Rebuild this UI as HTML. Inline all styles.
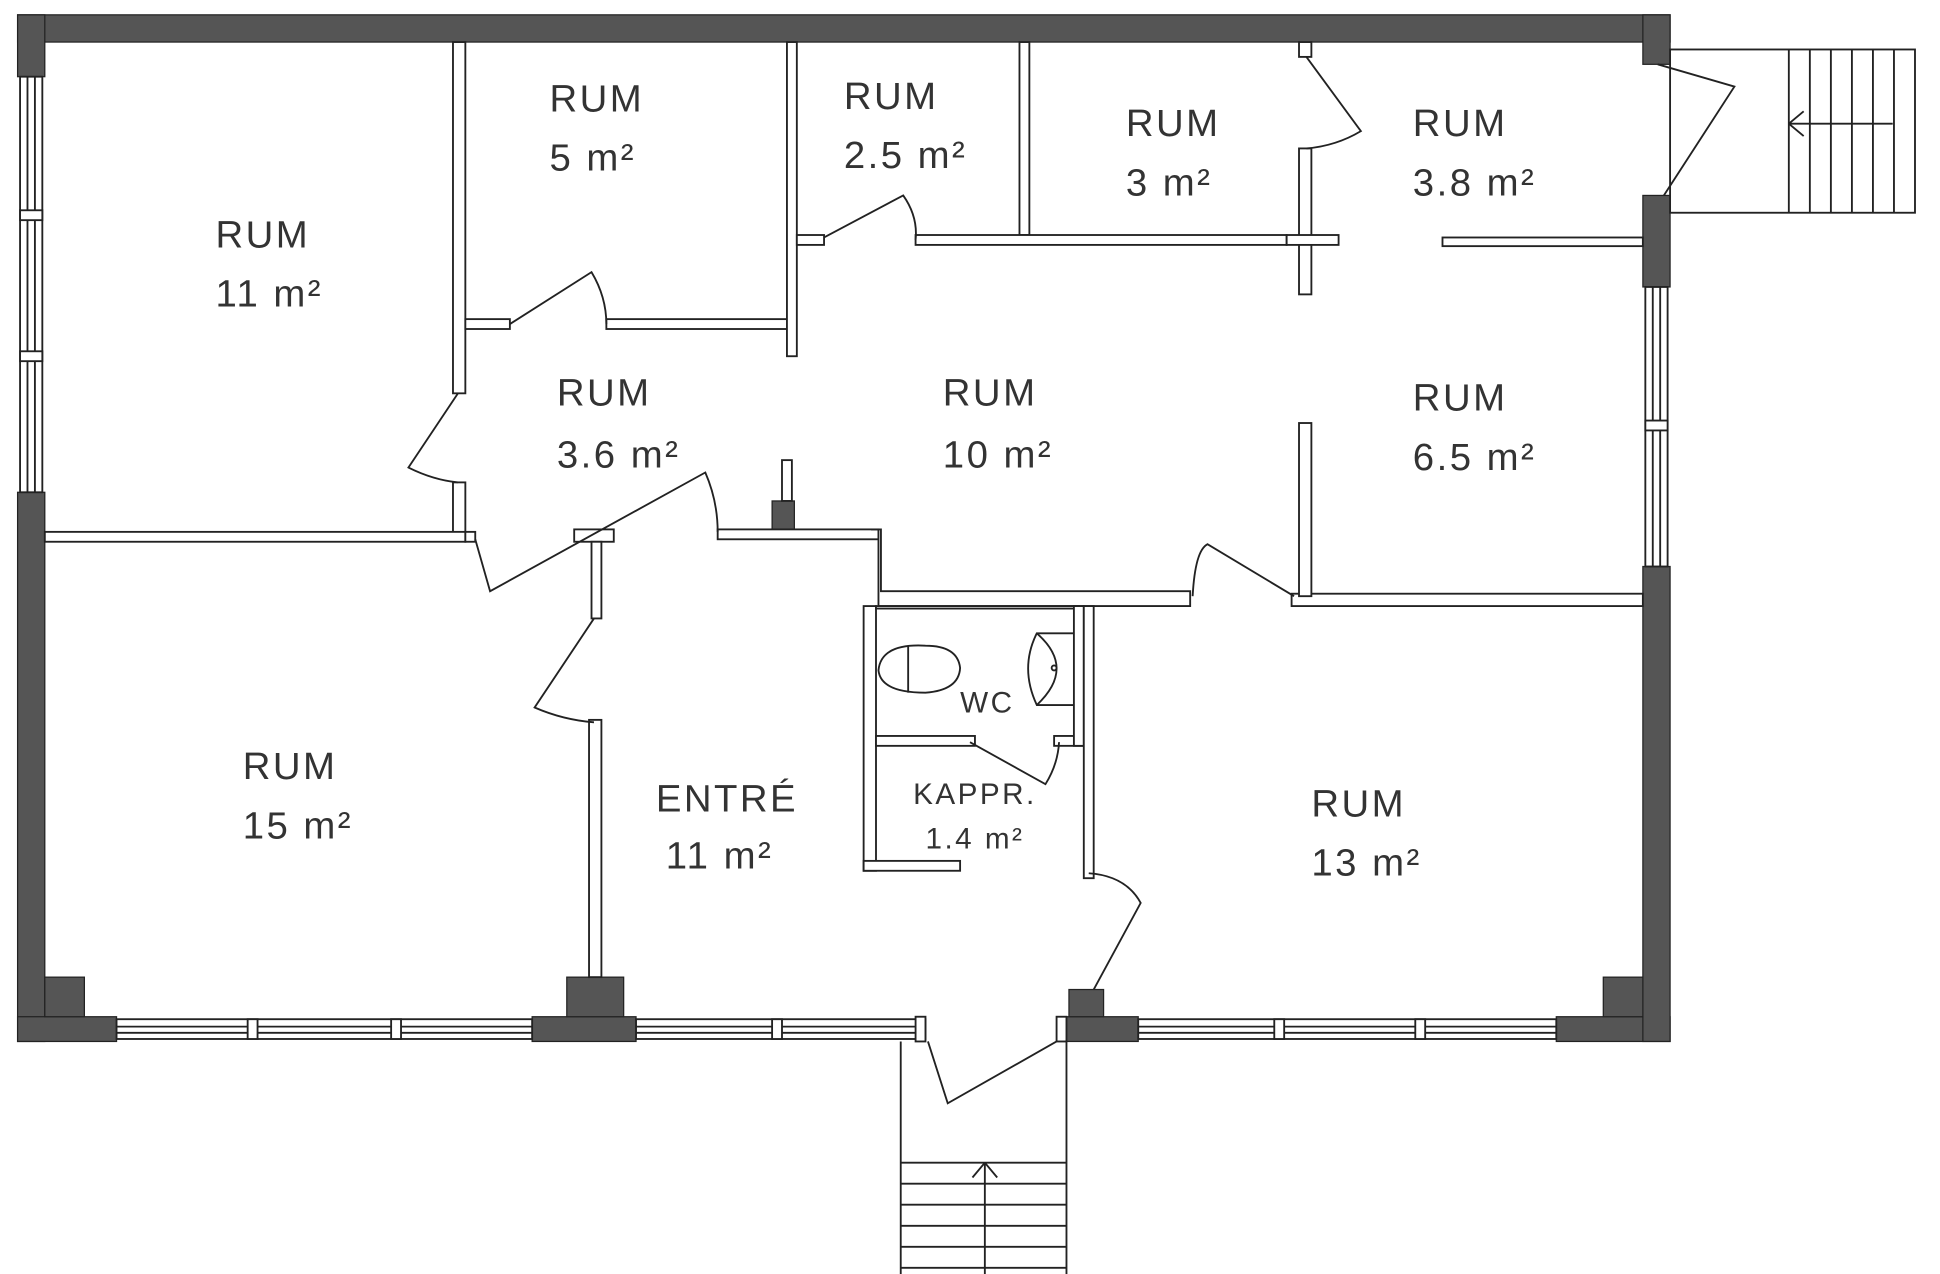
<!DOCTYPE html>
<html><head><meta charset="utf-8"><style>
html,body{margin:0;padding:0;background:#fff;}
svg{display:block;}
text{font-family:"Liberation Sans",sans-serif;fill:#333;font-size:31px;letter-spacing:2px;}
</style></head><body>
<svg width="1940" height="1274" viewBox="0 0 1568 1030" xmlns="http://www.w3.org/2000/svg">
<g fill="#555" stroke="#222" stroke-width="1">
<!-- outer walls -->
<rect x="14" y="12" width="1336" height="22"/>
<rect x="14" y="12" width="22" height="50"/>
<rect x="14" y="398" width="22" height="444"/>
<rect x="14" y="822" width="80" height="20"/>
<rect x="430" y="822" width="84" height="20"/>
<rect x="854" y="822" width="66" height="20"/>
<rect x="1258" y="822" width="92" height="20"/>
<rect x="1328" y="12" width="22" height="40"/>
<rect x="1328" y="158" width="22" height="74"/>
<rect x="1328" y="458" width="22" height="384"/>
<rect x="36" y="790" width="32" height="32"/>
<rect x="458" y="790" width="46" height="32"/>
<rect x="1296" y="790" width="32" height="32"/>
<rect x="864" y="800" width="28" height="22"/>
<rect x="624" y="405" width="18" height="23"/>
</g>
<g fill="#fff" stroke="#222" stroke-width="1.5">
<!-- windows -->
<rect x="16" y="62" width="18" height="336"/>
<line x1="22" y1="62" x2="22" y2="398"/><line x1="28" y1="62" x2="28" y2="398"/>
<rect x="16" y="170" width="18" height="8"/><rect x="16" y="284" width="18" height="8"/>
<rect x="94" y="824" width="336" height="16"/>
<line x1="94" y1="830" x2="430" y2="830"/><line x1="94" y1="835" x2="430" y2="835"/>
<rect x="200" y="824" width="8" height="16"/><rect x="316" y="824" width="8" height="16"/>
<rect x="514" y="824" width="234" height="16"/>
<line x1="514" y1="830" x2="748" y2="830"/><line x1="514" y1="835" x2="748" y2="835"/>
<rect x="624" y="824" width="8" height="16"/><rect x="740" y="822" width="8" height="20"/>
<rect x="920" y="824" width="338" height="16"/>
<line x1="920" y1="830" x2="1258" y2="830"/><line x1="920" y1="835" x2="1258" y2="835"/>
<rect x="1030" y="824" width="8" height="16"/><rect x="1144" y="824" width="8" height="16"/>
<rect x="854" y="822" width="8" height="20"/>
<rect x="1330" y="232" width="18" height="226"/>
<line x1="1336" y1="232" x2="1336" y2="458"/><line x1="1342" y1="232" x2="1342" y2="458"/>
<rect x="1330" y="340" width="18" height="8"/>
<!-- interior walls -->
<rect x="366" y="34" width="10" height="284"/>
<rect x="366" y="390" width="10" height="42"/>
<rect x="36" y="430" width="340" height="8"/>
<rect x="376" y="258" width="36" height="8"/>
<rect x="490" y="258" width="152" height="8"/>
<rect x="636" y="34" width="8" height="254"/>
<rect x="824" y="34" width="8" height="156"/>
<rect x="644" y="190" width="22" height="8"/>
<rect x="740" y="190" width="300" height="8"/>
<rect x="1050" y="34" width="10" height="12"/>
<rect x="1050" y="120" width="10" height="118"/>
<rect x="1040" y="190" width="42" height="8"/>
<rect x="1166" y="192" width="162" height="7"/>
<rect x="376" y="430" width="8" height="8"/>
<rect x="464" y="428" width="32" height="10"/>
<rect x="478" y="438" width="8" height="62"/>
<rect x="476" y="582" width="10" height="208"/>
<rect x="580" y="428" width="130" height="8"/>
<rect x="632" y="372" width="8" height="33"/>
<path d="M704 428 H712 V478 H962 V490 H710 V428 Z"/>
<rect x="1044" y="480" width="284" height="10"/>
<rect x="1050" y="342" width="10" height="140"/>
<rect x="698" y="490" width="10" height="214"/>
<rect x="698" y="696" width="78" height="8"/>
<rect x="708" y="490" width="164" height="2"/>
<rect x="708" y="595" width="80" height="8"/>
<rect x="852" y="595" width="24" height="8"/>
<rect x="868" y="490" width="8" height="113"/>
<rect x="876" y="490" width="8" height="220"/>
</g>
<g fill="none" stroke="#222" stroke-width="1.5">
<!-- doors -->
<path d="M412 262 L478 220 Q490 240 490 262"/>
<path d="M370 318 L330 378 Q350 388 370 390"/>
<path d="M384 436 L396 478 L570 382 Q580 405 580 430"/>
<path d="M480 500 L432 572 Q455 582 480 584"/>
<path d="M666 192 L730 158 Q742 175 740 194"/>
<path d="M1056 46 L1100 106 Q1080 118 1056 120"/>
<path d="M1340 52 L1402 70 L1345 158"/>
<path d="M964 482 Q966 445 976 440 L1046 482"/>
<path d="M784 600 L845 634 Q855 618 856 600"/>
<path d="M880 706 Q910 708 922 730 L884 800"/>
<path d="M750 842 L766 892 L854 842"/>
<!-- WC fixtures -->
<path d="M748 522 Q712 520 710 542 Q712 560 748 560 Q775 558 776 540 Q774 522 748 522 Z"/>
<line x1="734" y1="522" x2="734" y2="560"/>
<path d="M868 512 H838 Q824 540 838 570 H868"/>
<path d="M838 512 Q870 540 838 570"/>
<circle cx="852" cy="540" r="2"/>
<!-- stairs right -->
<rect x="1350" y="40" width="198" height="132"/>
<path d="M1446 40 V172 M1463 40 V172 M1480 40 V172 M1497 40 V172 M1514 40 V172 M1531 40 V172"/>
<path d="M1446 100 H1530 M1446 100 L1458 90 M1446 100 L1458 110"/>
<!-- stairs bottom -->
<path d="M728 842 V1030 M862 842 V1030"/>
<path d="M728 940 H862 M728 957 H862 M728 974 H862 M728 991 H862 M728 1008 H862 M728 1025 H862"/>
<path d="M796 940 V1030 M796 940 L786 952 M796 940 L806 952"/>
</g>
<g>
<text x="174" y="200">RUM</text><text x="174" y="248">11 m²</text>
<text x="444" y="90">RUM</text><text x="444" y="138">5 m²</text>
<text x="682" y="88">RUM</text><text x="682" y="136">2.5 m²</text>
<text x="910" y="110">RUM</text><text x="910" y="158">3 m²</text>
<text x="1142" y="110">RUM</text><text x="1142" y="158">3.8 m²</text>
<text x="450" y="328">RUM</text><text x="450" y="378">3.6 m²</text>
<text x="762" y="328">RUM</text><text x="762" y="378">10 m²</text>
<text x="1142" y="332">RUM</text><text x="1142" y="380">6.5 m²</text>
<text x="196" y="630">RUM</text><text x="196" y="678">15 m²</text>
<text x="530" y="656">ENTRÉ</text><text x="538" y="702">11 m²</text>
<text x="1060" y="660">RUM</text><text x="1060" y="708">13 m²</text>
<text x="776" y="576" style="font-size:24px">WC</text>
<text x="738" y="650" style="font-size:24px">KAPPR.</text><text x="748" y="686" style="font-size:24px">1.4 m²</text>
</g>
</svg>
</body></html>
